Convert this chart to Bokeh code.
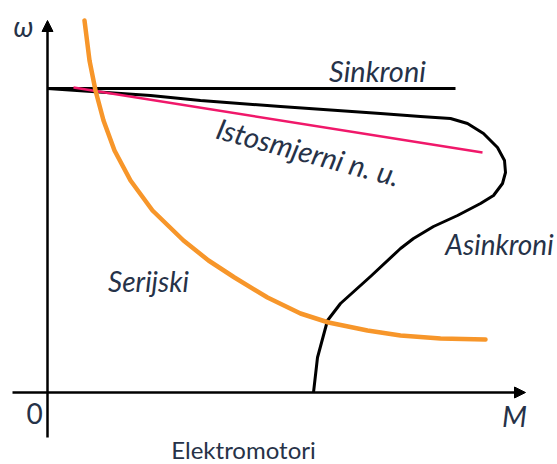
from bokeh.plotting import figure
from bokeh.models import Range1d, Arrow, NormalHead, Label
from bokeh.embed import file_html
from bokeh.resources import INLINE
import math

# Torque (M) / speed (omega) characteristics, arbitrary units
sync_M = [0.0, 4.08]
sync_w = [3.04, 3.04]

dc_shunt_M = [0.26, 4.35]
dc_shunt_w = [3.05, 2.40]

series_M = [0.37, 0.42, 0.48, 0.56, 0.67, 0.83, 1.05, 1.36, 1.61, 1.87, 2.20, 2.53,
            2.81, 3.20, 3.53, 3.93, 4.38]
series_w = [3.72, 3.32, 3.02, 2.72, 2.42, 2.12, 1.82, 1.52, 1.32, 1.15, 0.95, 0.79,
            0.70, 0.62, 0.57, 0.54, 0.53]

async_M = [0.00, 1.03, 1.53, 2.33, 3.33, 3.73, 4.03, 4.20, 4.36, 4.50, 4.57, 4.58,
           4.55, 4.46, 4.33, 4.10, 3.86, 3.66, 3.53, 3.23, 2.93, 2.80, 2.70, 2.66]
async_w = [3.04, 2.97, 2.92, 2.86, 2.79, 2.76, 2.74, 2.69, 2.59, 2.45, 2.32, 2.20,
           2.09, 1.97, 1.89, 1.77, 1.66, 1.54, 1.44, 1.16, 0.89, 0.72, 0.35, 0.00]

labels = ["Sinkroni", "Istosmjerni n. u.", "Asinkroni", "Serijski"]
axis_labels = ["\u03c9", "M", "0"]
title_text = "Elektromotori"

TXT = "#263248"
FONT = "Lato"

p = figure(width=557, height=464, output_backend="svg", toolbar_location=None,
           x_range=Range1d(-0.47, 5.10), y_range=Range1d(-0.72, 3.92),
           min_border=0, min_border_left=0, min_border_right=0,
           min_border_top=0, min_border_bottom=0)
p.axis.visible = False
p.grid.visible = False
p.outline_line_color = None
p.background_fill_color = "white"
p.border_fill_color = "white"

# axes drawn as arrows
p.add_layout(Arrow(end=NormalHead(size=11, fill_color="black", line_color="black"),
                   x_start=0, y_start=-0.45, x_end=0, y_end=3.72,
                   line_width=2.5, line_color="black"))
p.add_layout(Arrow(end=NormalHead(size=11, fill_color="black", line_color="black"),
                   x_start=-0.35, y_start=0, x_end=4.78, y_end=0,
                   line_width=2.5, line_color="black"))

# curves
p.line(sync_M, sync_w, line_color="black", line_width=3)
p.line(async_M, async_w, line_color="black", line_width=3, line_join="round")
p.line(dc_shunt_M, dc_shunt_w, line_color="#f0186a", line_width=2.5)
p.line(series_M, series_w, line_color="#f7962a", line_width=4.5,
       line_join="round", line_cap="round")

def lab(x, y, t, size, style="italic", angle=0.0):
    p.add_layout(Label(x=x, y=y, text=t, text_font=FONT, text_font_size=f"{size}px",
                       text_font_style=style, text_color=TXT, text_align="center",
                       text_baseline="middle", angle=angle))

lab(-0.24, 3.67, axis_labels[0], 28)
lab(4.67, -0.23, axis_labels[1], 29)
lab(-0.13, -0.21, axis_labels[2], 28, style="normal")
lab(3.30, 3.22, labels[0], 29)
lab(2.61, 2.41, labels[1], 29, angle=math.radians(-15))
lab(4.52, 1.49, labels[2], 28)
lab(1.01, 1.12, labels[3], 28)
lab(1.96, -0.57, title_text, 24, style="normal")

open("out.html", "w").write(file_html(p, INLINE))
